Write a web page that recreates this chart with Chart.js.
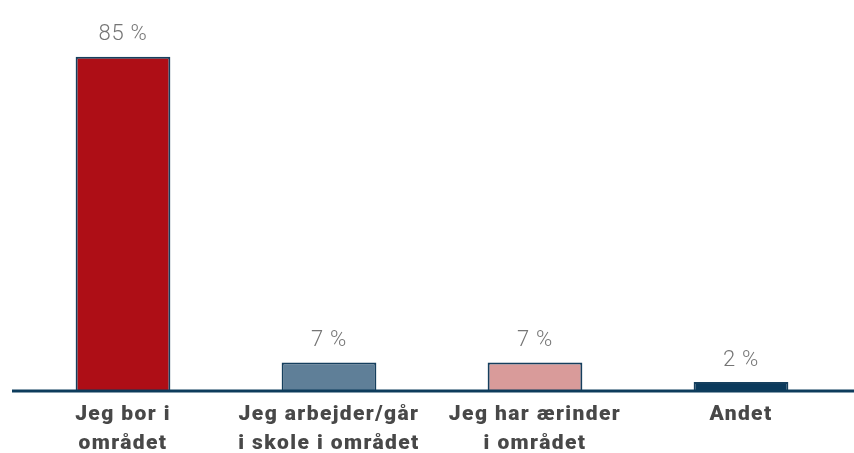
<!DOCTYPE html>
<html>
<head>
<meta charset="utf-8">
<script src="https://cdn.jsdelivr.net/npm/chart.js@4"></script>
<style>
  html, body { margin: 0; padding: 0; background: #fff; }
  #wrap { width: 854px; height: 453px; position: relative; }
</style>
</head>
<body>
<div id="wrap"><canvas id="chart"></canvas></div>
<script>
// --- data ---
const categories = [
    ['Jeg bor i', 'området'],
    ['Jeg arbejder/går', 'i skole i området'],
    ['Jeg har ærinder', 'i området'],
    ['Andet']
];
const shares = [85, 7, 7, 2];
const barColors = ['#ae0e16', '#5f7f98', '#d99b9a', '#0b3a5c'];

// wider letters for the category labels (the original font runs wide)
const spacingPlugin = {
    id: 'spacing',
    beforeDraw(chart) { chart.ctx.letterSpacing = '1.4px'; },
    beforeDatasetsDraw(chart) { chart.ctx.letterSpacing = '0px'; }
};

// percent labels above the bars + long baseline
const labelPlugin = {
    id: 'barLabels',
    afterDatasetsDraw(chart) {
        const ctx = chart.ctx;
        const meta = chart.getDatasetMeta(0);
        ctx.save();
        ctx.letterSpacing = '0.8px';
        ctx.fillStyle = '#757575';
        ctx.font = '300 22px Roboto';
        ctx.textAlign = 'center';
        ctx.textBaseline = 'bottom';
        meta.data.forEach((bar, i) => {
            ctx.fillText(shares[i] + ' %', bar.x, bar.y - 11);
        });
        // axis line
        const y = chart.scales.y.getPixelForValue(0);
        ctx.letterSpacing = '0px';
        ctx.strokeStyle = '#0d3c5c';
        ctx.lineWidth = 3;
        ctx.beginPath();
        ctx.moveTo(12, y + 1);
        ctx.lineTo(chart.width, y + 1);
        ctx.stroke();
        ctx.restore();
    }
};

new Chart(document.getElementById('chart'), {
    type: 'bar',
    data: {
        labels: categories,
        datasets: [{
            data: shares,
            backgroundColor: barColors,
            borderColor: '#153f5e',
            borderWidth: 2,
            barPercentage: 0.46,
            categoryPercentage: 1
        }]
    },
    options: {
        responsive: true,
        maintainAspectRatio: false,
        animation: false,
        layout: { padding: { left: 20, right: 10, top: 0, bottom: -16 } },
        plugins: {
            legend: { display: false },
            tooltip: { enabled: false }
        },
        scales: {
            x: {
                grid: { display: false, drawTicks: false },
                border: { display: false },
                ticks: {
                    color: '#484848',
                    font: { family: 'Roboto', size: 21, weight: '900', lineHeight: 1.36 },
                    padding: 11,
                    maxRotation: 0,
                    autoSkip: false
                }
            },
            y: {
                display: false,
                min: 0,
                max: 99.5
            }
        }
    },
    plugins: [spacingPlugin, labelPlugin]
});
</script>
</body>
</html>
